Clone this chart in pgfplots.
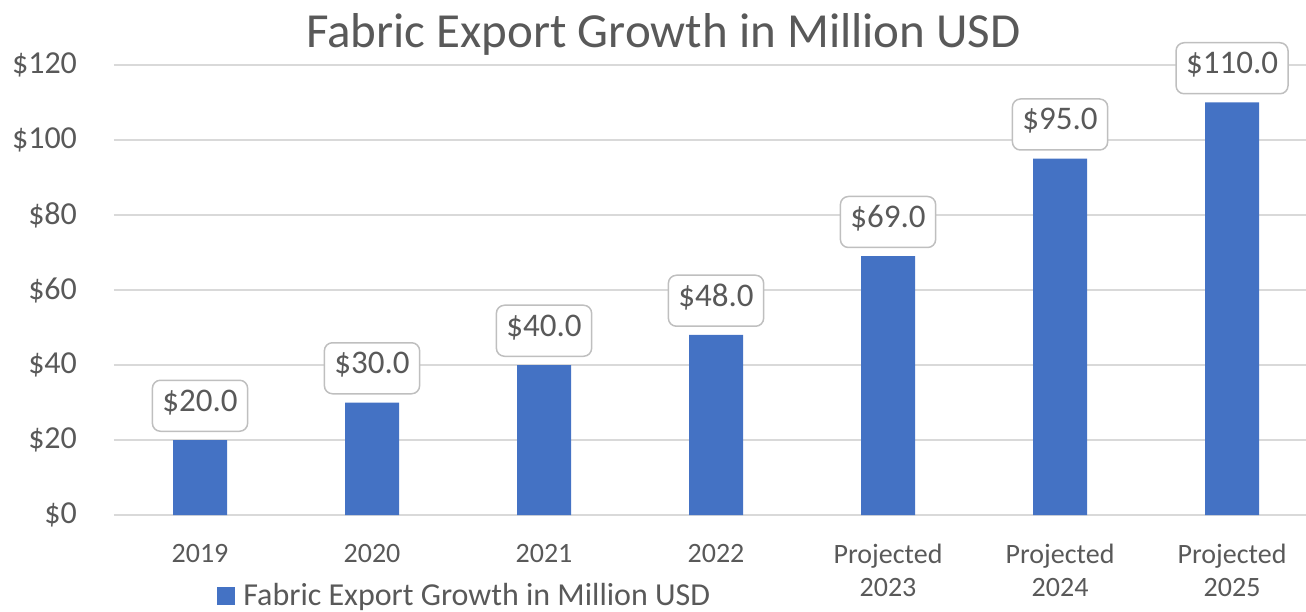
\documentclass[border=0pt]{standalone}
\usepackage{fontspec}
\setmainfont{Carlito}
\usepackage{pgfplots}
\pgfplotsset{compat=1.18}
\usetikzlibrary{calc}
\definecolor{barblue}{HTML}{4472C4}
\definecolor{gridgray}{HTML}{D9D9D9}
\definecolor{txtgray}{HTML}{595959}
\definecolor{boxgray}{HTML}{BFBFBF}
\begin{document}
\begin{tikzpicture}
\begin{axis}[
  name=ax,
  scale only axis,
  width=596pt, height=225pt,
  xmin=-0.5, xmax=6.43,
  ymin=0, ymax=120,
  ytick={0,20,40,60,80,100,120},
  yticklabel={\$\pgfmathprintnumber{\tick}},
  xtick={0,1,2,3,4,5,6},
  xticklabels={2019,2020,2021,2022,{Projected\\2023},{Projected\\2024},{Projected\\2025}},
  /pgf/number format/assume math mode=true,
  ymajorgrids,
  grid style={gridgray, line width=0.75pt},
  axis line style={draw=none},
  major tick length=0pt,
  tick style={draw=none},
  ticklabel style={text=txtgray},
  yticklabel style={font=\fontsize{16}{16.5}\selectfont, anchor=east, xshift=-15pt},
  xticklabel style={font=\fontsize{14}{16.5}\selectfont, anchor=north, align=center, yshift=-11pt},
  title={Fabric Export Growth in Million USD},
  title style={at={(axis description cs:0.461,1)}, anchor=base, yshift=2.5pt, font=\fontsize{24.5}{28}\selectfont, text=txtgray},
  clip=false,
  ybar, bar width=27pt,
  point meta=y,
  nodes near coords={\$\pgfmathprintnumber[fixed, fixed zerofill, precision=1]{\pgfplotspointmeta}},
  every node near coord/.append style={font=\fontsize{16.5}{18}\selectfont, text=txtgray, draw=boxgray, line width=0.75pt, fill=white, rounded corners=4pt, inner xsep=5pt, inner ysep=0pt, text height=15.5pt, text depth=10pt, anchor=south, yshift=4pt},
  legend style={at={(axis description cs:0.0864,-0.18)}, anchor=west, draw=none, fill=none, font=\fontsize{16}{18}\selectfont, text=txtgray, inner sep=0pt},
  legend image code/.code={\fill[barblue] (0pt,-4.5pt) rectangle (9pt,4.5pt);},
  legend cell align=left,
  legend style={/tikz/every even column/.append style={column sep=0pt}, nodes={inner xsep=4pt}},
]
\addplot[fill=barblue, draw=none] coordinates {(0,20) (1,30) (2,40) (3,48) (4,69) (5,95) (6,110)};
\addlegendentry{Fabric Export Growth in Million USD}
\end{axis}
\pgfresetboundingbox
\path[use as bounding box] ($(ax.south west)+(-57pt,-48pt)$) rectangle ($(ax.north east)+(0pt,32.5pt)$);
\end{tikzpicture}
\end{document}
